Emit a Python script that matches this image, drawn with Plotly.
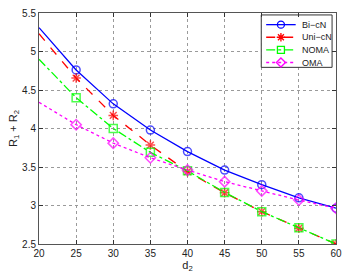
import plotly.graph_objects as go

d2 = [20, 25, 30, 35, 40, 45, 50, 55, 60]
bi_cn = [5.31, 4.76, 4.32, 3.98, 3.70, 3.46, 3.27, 3.10, 2.965]
uni_cn = [5.23, 4.655, 4.17, 3.785, 3.44, 3.165, 2.92, 2.705, 2.50]
noma = [4.90, 4.40, 4.00, 3.69, 3.45, 3.17, 2.92, 2.71, 2.50]
oma = [4.34, 4.05, 3.81, 3.62, 3.46, 3.31, 3.19, 3.07, 2.965]
names = ["Bi\u2212cN", "Uni\u2212cN", "NOMA", "OMA"]

colors = ["#0000FF", "#FF0000", "#00FF00", "#FF00FF"]
dashes = ["solid", "dash", "dashdot", "dot"]
symbols = ["circle-open", "asterisk-open", "square-open", "diamond-open"]
msizes = [8, 8, 8, 8]

FONT = "Liberation Sans, Arial"

fig = go.Figure()
for name, vals, col, dash, sym, ms in zip(names, [bi_cn, uni_cn, noma, oma],
                                          colors, dashes, symbols, msizes):
    fig.add_trace(go.Scatter(
        x=d2, y=vals, name=name, mode="lines+markers", showlegend=False,
        line=dict(color=col, width=1.3, dash=dash),
        marker=dict(symbol=sym, size=[0] + [ms] * (len(d2) - 1), color=col,
                    line=dict(color=col, width=1.5)),
    ))

# custom legend drawn on an overlay axis measured in pixels of the plot area
L, R, T, B = 39, 341, 7, 245
bx0, bx1, by0, by1 = 265, 337, 9, 63
row_y = [19, 32, 45, 58]
fig.add_trace(go.Scatter(
    x=[bx0, bx1, bx1, bx0, bx0], y=[by0, by0, by1, by1, by0],
    xaxis="x2", yaxis="y2", mode="lines", fill="toself", fillcolor="white",
    line=dict(color="#333", width=1), showlegend=False, hoverinfo="skip"))
for name, col, dash, sym, y in zip(names, colors, dashes, symbols, row_y):
    fig.add_trace(go.Scatter(
        x=[270, 300], y=[y, y], xaxis="x2", yaxis="y2", mode="lines",
        line=dict(color=col, width=1.3, dash=dash), showlegend=False,
        hoverinfo="skip"))
    fig.add_trace(go.Scatter(
        x=[285], y=[y], xaxis="x2", yaxis="y2", mode="markers",
        marker=dict(symbol=sym, size=7, color=col, line=dict(color=col, width=1.3)),
        showlegend=False, hoverinfo="skip"))
    fig.add_annotation(x=304, y=y, xref="x2", yref="y2", text=name,
                       showarrow=False, xanchor="left", yanchor="middle",
                       font=dict(family=FONT, size=9, color="#222"))

axis_common = dict(
    showgrid=True, gridcolor="#9a9a9a", griddash="dot", gridwidth=1,
    ticks="inside", ticklen=4, tickcolor="#333", mirror="ticks",
    showline=True, linecolor="#555", linewidth=1, zeroline=False,
    tickfont=dict(family=FONT, size=10, color="#222"),
)

fig.update_layout(
    width=349, height=276,
    margin=dict(l=L, r=349 - R, t=T, b=276 - B),
    paper_bgcolor="white", plot_bgcolor="white",
    showlegend=False,
    xaxis=dict(range=[20, 60], tickvals=list(range(20, 61, 5)),
               title=dict(text="d<sub>2</sub>", standoff=2,
                          font=dict(family=FONT, size=11, color="#222")),
               **axis_common),
    yaxis=dict(range=[2.5, 5.5], tickvals=[2.5, 3, 3.5, 4, 4.5, 5, 5.5],
               ticktext=["2.5", "3", "3.5", "4", "4.5", "5", "5.5"],
               title=dict(text="R<sub>1</sub> + R<sub>2</sub>", standoff=2,
                          font=dict(family=FONT, size=11, color="#222")),
               **axis_common),
    xaxis2=dict(overlaying="x", anchor="y2", range=[L, R], visible=False,
                fixedrange=True),
    yaxis2=dict(overlaying="y", anchor="x2", range=[B, T], visible=False,
                fixedrange=True),
)

fig.write_html("out.html", config={"displayModeBar": False},
               post_script="document.body.style.margin='0';")
